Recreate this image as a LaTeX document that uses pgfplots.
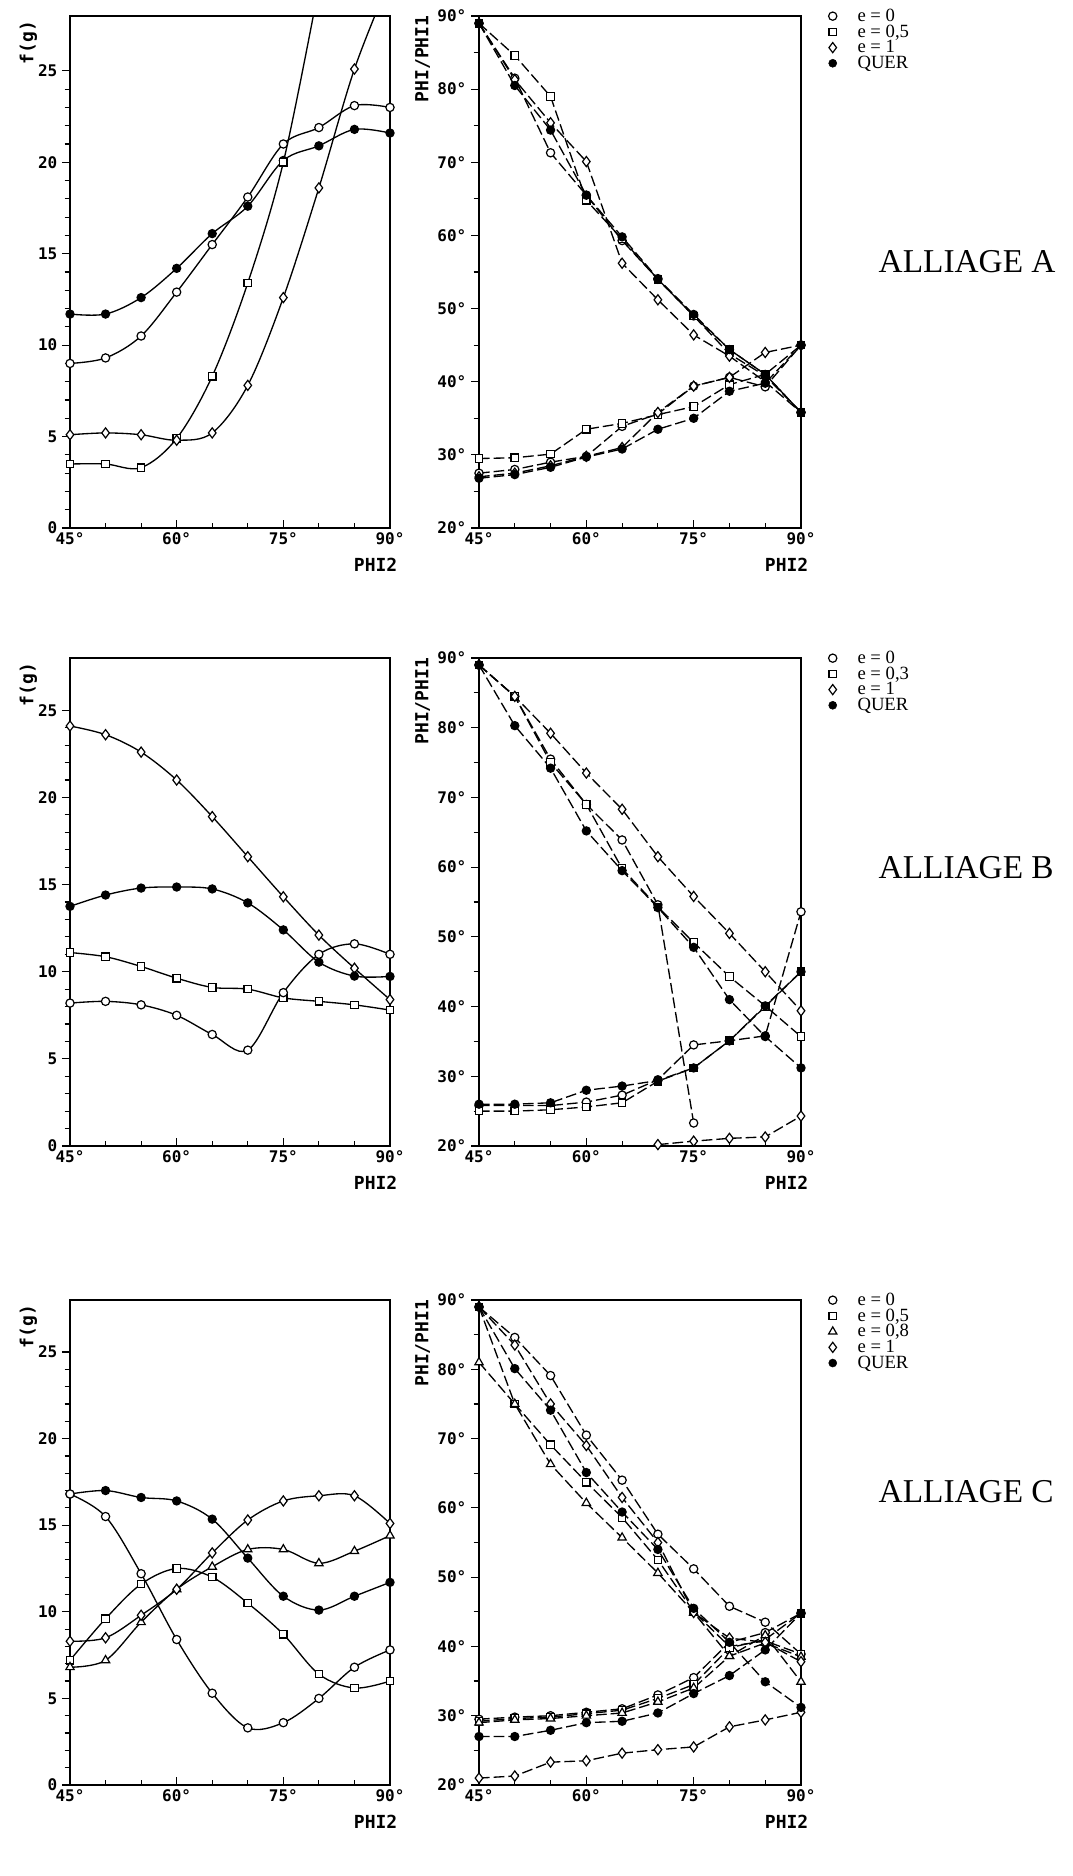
\documentclass[border=0pt]{standalone}
\usepackage{fontspec}
\setmainfont{Liberation Serif}
\newfontfamily\plotfont{DejaVu Sans Mono}
\usepackage{pgfplots}
\pgfplotsset{compat=1.18}
\pgfplotsset{
 mO/.style={mark=*, mark size=3.1pt, mark options={fill=white, solid, line width=0.9pt}},
 mS/.style={mark=square*, mark size=2.8pt, mark options={fill=white, solid, line width=0.9pt}},
 mD/.style={mark=diamond*, mark size=3.8pt, mark options={fill=white, solid, line width=0.9pt}},
 mT/.style={mark=triangle*, mark size=3.6pt, mark options={fill=white, solid, line width=0.9pt}},
 mF/.style={mark=*, mark size=3pt, mark options={fill=black, solid}},
 sm/.style={smooth, tension=0.55, line width=1pt, black},
 ds/.style={line width=1pt, black, dash pattern=on 8pt off 3pt},
 common/.style={scale only axis, xmin=45, xmax=90,
   xtick={45,60,75,90}, xticklabels={45°,60°,75°,90°},
   minor xtick={50,55,65,70,80,85},
   axis line style={line width=1.4pt}, tick style={black, line width=0.9pt},
   major tick length=6pt, minor tick length=4pt,
   xtick pos=lower, ytick pos=left, xtick align=inside, ytick align=outside,
   tick label style={font=\plotfont\bfseries\fontsize{12}{12}\selectfont},
   clip marker paths=false,
   xlabel={PHI2},
   every axis x label/.style={at={(axis description cs:1,0)}, anchor=north east, xshift=9pt, yshift=-19pt, font=\plotfont\bfseries\fontsize{13.5}{13.5}\selectfont},
   every axis y label/.style={rotate=90, anchor=east, font=\plotfont\bfseries\fontsize{13.5}{13.5}\selectfont},
   legend style={at={(1,1)}, anchor=north west, xshift=20.5pt, yshift=6pt, draw=none, fill=none,
     font=\fontsize{14}{12}\selectfont, row sep=0pt, inner sep=0pt,
     nodes={inner sep=0.5pt, anchor=west},
     /tikz/every odd column/.append style={column sep=15pt}},
   legend cell align=left},
 leftax/.style={common, width=240pt, ymin=0, ymax=28, ytick={0,5,10,15,20,25},
   yticklabels={0,5,10,15,20,25}, minor y tick num=4, ylabel={f(g)},
   every axis y label/.append style={at={(axis description cs:-0.13,1)}}},
 rightax/.style={common, width=241.5pt, ymin=20, ymax=90, ytick={20,30,40,50,60,70,80,90},
   yticklabels={20°,30°,40°,50°,60°,70°,80°,90°}, minor y tick num=1, ylabel={PHI/PHI1},
   every axis y label/.append style={at={(axis description cs:-0.175,1.01)}}},
}
\begin{document}
\begin{tikzpicture}
\path[use as bounding box] (0,0) rectangle (804pt,-1407pt);

% ================= ALLIAGE A =================
\begin{axis}[leftax, height=384pt, at={({70*0.75pt},{-528*0.75pt})}, anchor=south west]
\addplot[sm, mF] coordinates {(45,11.7)(50,11.7)(55,12.6)(60,14.2)(65,16.1)(70,17.6)(75,20.1)(80,20.9)(85,21.8)(90,21.6)};
\addplot[sm, mO] coordinates {(45,9.0)(50,9.3)(55,10.5)(60,12.9)(65,15.5)(70,18.1)(75,21.0)(80,21.9)(85,23.1)(90,23.0)};
\addplot[sm, mS, mark indices={1,2,3,4,5,6,7}] coordinates {(45,3.5)(50,3.5)(55,3.3)(60,4.9)(65,8.3)(70,13.4)(75,20.0)(80,29.6)};
\addplot[sm, mD, mark indices={1,2,3,4,5,6,7,8,9}] coordinates {(45,5.1)(50,5.2)(55,5.1)(60,4.8)(65,5.2)(70,7.8)(75,12.6)(80,18.6)(85,25.1)(90,30.0)};
\end{axis}

\begin{axis}[rightax, height=384pt, at={({479*0.75pt},{-528*0.75pt})}, anchor=south west]
\addlegendimage{only marks, mO}\addlegendentry{e = 0}
\addlegendimage{only marks, mS}\addlegendentry{e = 0,5}
\addlegendimage{only marks, mD}\addlegendentry{e = 1}
\addlegendimage{only marks, mF}\addlegendentry{QUER}
\addplot[ds, mO, forget plot] coordinates {(45,89)(50,81.5)(55,71.3)(60,65.5)(65,59.3)(70,54)(75,49)(80,43.8)(85,40.8)(90,35.8)};
\addplot[ds, mO, forget plot] coordinates {(45,27.5)(50,28)(55,29)(60,29.8)(65,33.9)(70,35.6)(75,39.4)(80,40.6)(85,39.3)(90,45)};
\addplot[ds, mS, forget plot] coordinates {(45,89)(50,84.6)(55,79)(60,64.8)(65,59.5)(70,54)(75,49)(80,44.4)(85,41)(90,35.8)};
\addplot[ds, mS, forget plot] coordinates {(45,29.5)(50,29.6)(55,30.1)(60,33.5)(65,34.3)(70,35.5)(75,36.6)(80,39.6)(85,41)(90,45)};
\addplot[ds, mD, forget plot] coordinates {(45,89)(50,81.3)(55,75.4)(60,70.1)(65,56.2)(70,51.2)(75,46.4)(80,43.5)(85,40)(90,35.8)};
\addplot[ds, mD, forget plot] coordinates {(45,27)(50,27.5)(55,28.5)(60,29.8)(65,31)(70,35.8)(75,39.4)(80,40.6)(85,44)(90,45)};
\addplot[ds, mF, forget plot] coordinates {(45,89)(50,80.5)(55,74.4)(60,65.5)(65,59.8)(70,54.1)(75,49.2)(80,44.4)(85,41)(90,35.8)};
\addplot[ds, mF, forget plot] coordinates {(45,26.8)(50,27.3)(55,28.3)(60,29.7)(65,30.8)(70,33.5)(75,35)(80,38.7)(85,39.8)(90,45)};
\end{axis}

% ================= ALLIAGE B =================
\begin{axis}[leftax, height=366pt, at={({70*0.75pt},{-1146*0.75pt})}, anchor=south west]
\addplot[sm, mD] coordinates {(45,24.1)(50,23.6)(55,22.6)(60,21.0)(65,18.9)(70,16.6)(75,14.3)(80,12.1)(85,10.2)(90,8.4)};
\addplot[sm, mF] coordinates {(45,13.75)(50,14.4)(55,14.8)(60,14.86)(65,14.75)(70,13.95)(75,12.4)(80,10.55)(85,9.75)(90,9.73)};
\addplot[sm, mS] coordinates {(45,11.1)(50,10.86)(55,10.3)(60,9.63)(65,9.1)(70,9.0)(75,8.5)(80,8.3)(85,8.1)(90,7.8)};
\addplot[sm, mO] coordinates {(45,8.2)(50,8.3)(55,8.1)(60,7.5)(65,6.4)(70,5.5)(75,8.8)(80,11.0)(85,11.6)(90,11.0)};
\end{axis}

\begin{axis}[rightax, height=366pt, at={({479*0.75pt},{-1146*0.75pt})}, anchor=south west]
\addlegendimage{only marks, mO}\addlegendentry{e = 0}
\addlegendimage{only marks, mS}\addlegendentry{e = 0,3}
\addlegendimage{only marks, mD}\addlegendentry{e = 1}
\addlegendimage{only marks, mF}\addlegendentry{QUER}
\addplot[ds, mO, forget plot] coordinates {(45,89)(50,84.5)(55,75.5)(60,69)(65,63.9)(70,54.6)(75,23.3)};
\addplot[ds, mO, forget plot] coordinates {(45,25.8)(50,25.8)(55,25.8)(60,26.3)(65,27.3)(70,29.5)(75,34.5)(80,35.1)(85,35.8)(90,53.6)};
\addplot[ds, mS, forget plot] coordinates {(45,89)(50,84.5)(55,75.0)(60,69)(65,59.8)(70,54.3)(75,49.2)(80,44.3)(85,40.1)(90,35.7)};
\addplot[ds, mS, forget plot] coordinates {(45,25)(50,25)(55,25.2)(60,25.6)(65,26.2)(70,29.3)(75,31.2)(80,35.1)(85,40)(90,45)};
\addplot[ds, mD, forget plot] coordinates {(45,89)(50,84.5)(55,79.2)(60,73.5)(65,68.3)(70,61.5)(75,55.8)(80,50.5)(85,45)(90,39.4)};
\addplot[ds, mD, forget plot] coordinates {(70,20.2)(75,20.7)(80,21.1)(85,21.3)(90,24.3)};
\addplot[ds, mF, forget plot] coordinates {(45,89)(50,80.3)(55,74.2)(60,65.2)(65,59.5)(70,54.2)(75,48.5)(80,41)(85,35.7)(90,31.2)};
\addplot[ds, mF, forget plot] coordinates {(45,26)(50,26)(55,26.2)(60,28)(65,28.6)(70,29.4)(75,31.2)(80,35.1)(85,40.1)(90,45)};
\end{axis}

% ================= ALLIAGE C =================
\begin{axis}[leftax, height=363.75pt, at={({70*0.75pt},{-1785*0.75pt})}, anchor=south west]
\addplot[sm, mF] coordinates {(45,16.8)(50,17.0)(55,16.6)(60,16.4)(65,15.35)(70,13.1)(75,10.9)(80,10.1)(85,10.9)(90,11.7)};
\addplot[sm, mO] coordinates {(45,16.8)(50,15.5)(55,12.2)(60,8.4)(65,5.3)(70,3.3)(75,3.6)(80,5.0)(85,6.8)(90,7.8)};
\addplot[sm, mS] coordinates {(45,7.2)(50,9.6)(55,11.6)(60,12.5)(65,12.0)(70,10.5)(75,8.7)(80,6.4)(85,5.6)(90,6.0)};
\addplot[sm, mT] coordinates {(45,6.8)(50,7.2)(55,9.4)(60,11.3)(65,12.6)(70,13.6)(75,13.6)(80,12.8)(85,13.5)(90,14.4)};
\addplot[sm, mD] coordinates {(45,8.3)(50,8.5)(55,9.8)(60,11.3)(65,13.4)(70,15.3)(75,16.4)(80,16.7)(85,16.7)(90,15.1)};
\end{axis}

\begin{axis}[rightax, height=363.75pt, at={({479*0.75pt},{-1785*0.75pt})}, anchor=south west]
\addlegendimage{only marks, mO}\addlegendentry{e = 0}
\addlegendimage{only marks, mS}\addlegendentry{e = 0,5}
\addlegendimage{only marks, mT}\addlegendentry{e = 0,8}
\addlegendimage{only marks, mD}\addlegendentry{e = 1}
\addlegendimage{only marks, mF}\addlegendentry{QUER}
\addplot[ds, mO, forget plot] coordinates {(45,89)(50,84.6)(55,79.1)(60,70.5)(65,64)(70,56.2)(75,51.2)(80,45.8)(85,43.5)(90,38.9)};
\addplot[ds, mO, forget plot] coordinates {(45,29.5)(50,29.8)(55,30)(60,30.5)(65,31)(70,33)(75,35.5)(80,40.6)(85,42)(90,44.8)};
\addplot[ds, mS, forget plot] coordinates {(45,89)(50,75)(55,69.1)(60,63.7)(65,58.6)(70,52.5)(75,45)(80,40)(85,40.8)(90,38.9)};
\addplot[ds, mS, forget plot] coordinates {(45,29.2)(50,29.6)(55,29.8)(60,30.3)(65,30.8)(70,32.5)(75,34.5)(80,39.8)(85,41)(90,44.8)};
\addplot[ds, mT, forget plot] coordinates {(45,81)(50,75)(55,66.3)(60,60.7)(65,55.7)(70,50.6)(75,44.9)(80,38.6)(85,41.6)(90,34.9)};
\addplot[ds, mT, forget plot] coordinates {(45,29)(50,29.4)(55,29.6)(60,30)(65,30.4)(70,32)(75,34)(80,38.6)(85,40.5)(90,38.5)};
\addplot[ds, mD, forget plot] coordinates {(45,89)(50,83.5)(55,75)(60,69)(65,61.5)(70,55)(75,44.9)(80,41.2)(85,40.6)(90,37.8)};
\addplot[ds, mD, forget plot] coordinates {(45,21)(50,21.3)(55,23.3)(60,23.5)(65,24.6)(70,25.1)(75,25.5)(80,28.4)(85,29.4)(90,30.5)};
\addplot[ds, mF, forget plot] coordinates {(45,89)(50,80.1)(55,74.1)(60,65.1)(65,59.4)(70,54)(75,45.5)(80,40.6)(85,34.9)(90,31.2)};
\addplot[ds, mF, forget plot] coordinates {(45,27)(50,27)(55,27.9)(60,29)(65,29.2)(70,30.4)(75,33.2)(80,35.8)(85,39.5)(90,44.8)};
\end{axis}

\node[anchor=west, font=\fontsize{25}{25}\selectfont] at ({874*0.75pt},{-262*0.75pt}) {ALLIAGE A};
\node[anchor=west, font=\fontsize{25}{25}\selectfont] at ({874*0.75pt},{-868*0.75pt}) {ALLIAGE B};
\node[anchor=west, font=\fontsize{25}{25}\selectfont] at ({874*0.75pt},{-1492*0.75pt}) {ALLIAGE C};
\end{tikzpicture}
\end{document}
